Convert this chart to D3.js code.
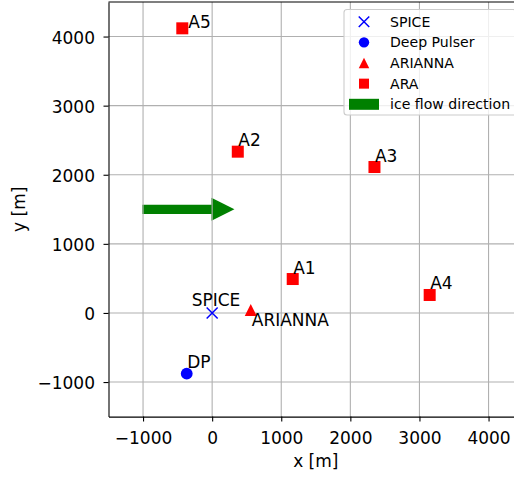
<!DOCTYPE html>
<html><head><meta charset="utf-8">
<script src="https://cdn.jsdelivr.net/npm/d3@7"></script>
<style>body{margin:0;background:#fff}svg{display:block}text{font-family:"DejaVu Sans",sans-serif}</style>
</head><body><svg id="c" width="514" height="478"></svg>
<script>
// ---- data ----
const araNames = ["A1", "A2", "A3", "A4", "A5"];
const araX = [1166, 371, 2349, 3148, -432];
const araY = [491, 2334, 2112, 260, 4119];
const spiceX = [0], spiceY = [0];
const dpX = [-368], dpY = [-879];
const ariannaX = [559], ariannaY = [43];
const arrowStart = [-1000, 1500], arrowDelta = [1000, 0];
const arrowWidth = 115, arrowHeadWidth = 300, arrowHeadLength = 300;
const xTicks = [-1000, 0, 1000, 2000, 3000, 4000];
const yTicks = [-1000, 0, 1000, 2000, 3000, 4000];
const xDomain = [-1500, 4500], yDomain = [-1500, 4500];
const legendLabels = ["SPICE", "Deep Pulser", "ARIANNA", "ARA", "ice flow direction"];

// ---- layout ----
const svg = d3.select("#c");
const L = 108.5, B = 416.6, pxPerUnit = 0.0691;
const x = d3.scaleLinear().domain(xDomain).range([L, L + (xDomain[1]-xDomain[0])*pxPerUnit]);
const y = d3.scaleLinear().domain(yDomain).range([B, B - (yDomain[1]-yDomain[0])*pxPerUnit]);
const red = "#ff0000", blue = "#0000ff", green = "#008000";

// arrow (patch, below grid)
const ax0 = arrowStart[0], ay0 = arrowStart[1], ax1 = ax0 + arrowDelta[0];
const hw = arrowWidth/2, hh = arrowHeadWidth/2;
const arrowPts = [[ax0, ay0+hw],[ax1, ay0+hw],[ax1, ay0+hh],[ax1+arrowHeadLength, ay0],[ax1, ay0-hh],[ax1, ay0-hw],[ax0, ay0-hw]];
svg.append("polygon").attr("points", arrowPts.map(p => [x(p[0]), y(p[1])].join(",")).join(" "))
  .attr("fill", green).attr("stroke", green).attr("stroke-width", 1.4).attr("stroke-linejoin","miter");

// grid
const g = svg.append("g");
xTicks.forEach(t => g.append("line").attr("x1", x(t)).attr("x2", x(t)).attr("y1", y(yDomain[0])).attr("y2", y(yDomain[1])).attr("stroke", "#b0b0b0").attr("stroke-width", 1.1));
yTicks.forEach(t => g.append("line").attr("y1", y(t)).attr("y2", y(t)).attr("x1", x(xDomain[0])).attr("x2", x(xDomain[1])).attr("stroke", "#b0b0b0").attr("stroke-width", 1.1));

// axes
const xAxis = d3.axisBottom(x).tickValues(xTicks).tickSize(5).tickPadding(10).tickSizeOuter(0).tickFormat(d => d < 0 ? "\u2212" + Math.abs(d) : d);
const yAxis = d3.axisLeft(y).tickValues(yTicks).tickSize(5).tickPadding(8.5).tickSizeOuter(0).tickFormat(d => d < 0 ? "\u2212" + Math.abs(d) : d);
const gx = svg.append("g").attr("transform", `translate(0,${B})`).call(xAxis);
const gy = svg.append("g").attr("transform", `translate(${L},0)`).call(yAxis);
[gx, gy].forEach(a => {
  a.selectAll("text").attr("font-size", 17).attr("fill", "#000").attr("font-family", '"DejaVu Sans",sans-serif');
  a.selectAll("line").attr("stroke", "#000").attr("stroke-width", 1.1);
  a.select(".domain").attr("stroke", "#000").attr("stroke-width", 1.1);
});
gy.selectAll("text").attr("dy", "0.38em");
// top spine
svg.append("line").attr("x1", x(xDomain[0])).attr("x2", x(xDomain[1])).attr("y1", y(yDomain[1])).attr("y2", y(yDomain[1])).attr("stroke", "#000").attr("stroke-width", 1.1);
svg.append("line").attr("x1", x(xDomain[1])).attr("x2", x(xDomain[1])).attr("y1", y(yDomain[0])).attr("y2", y(yDomain[1])).attr("stroke", "#000").attr("stroke-width", 1.1);

// axis labels
svg.append("text").attr("x", (x(xDomain[0])+x(xDomain[1]))/2).attr("y", 466.5).attr("text-anchor", "middle").attr("font-size", 17).text("x [m]");
svg.append("text").attr("transform", `translate(25,${(y(yDomain[0])+y(yDomain[1]))/2}) rotate(-90)`).attr("text-anchor", "middle").attr("font-size", 17).text("y [m]");

// marker helpers
function square(sel, cx, cy, s, col){ sel.append("rect").attr("x", cx-s/2).attr("y", cy-s/2).attr("width", s).attr("height", s).attr("fill", col); }
function tri(sel, cx, cy, s, col){ const h=s/2; sel.append("polygon").attr("points", `${cx},${cy-h} ${cx-h},${cy+h} ${cx+h},${cy+h}`).attr("fill", col); }
function circ(sel, cx, cy, r, col){ sel.append("circle").attr("cx", cx).attr("cy", cy).attr("r", r).attr("fill", col); }
function xmark(sel, cx, cy, s, col){ const h=s/2; sel.append("path").attr("d", `M${cx-h},${cy-h}L${cx+h},${cy+h}M${cx-h},${cy+h}L${cx+h},${cy-h}`).attr("stroke", col).attr("stroke-width", 1.5).attr("fill","none"); }

const m = svg.append("g");
spiceX.forEach((v,i) => xmark(m, x(v), y(spiceY[i]), 11, blue));
dpX.forEach((v,i) => circ(m, x(v), y(dpY[i]), 5.9, blue));
ariannaX.forEach((v,i) => tri(m, x(v), y(ariannaY[i]), 12, red));
araX.forEach((v,i) => square(m, x(v), y(araY[i]), 12, red));

// point labels
const lab = svg.append("g").attr("font-size", 17).attr("fill", "#000");
araNames.forEach((n,i) => {
  const dx = n === "A5" ? 6 : 0.5, dy = n === "A5" ? 0 : -5.5;
  lab.append("text").attr("x", x(araX[i]) + dx).attr("y", y(araY[i]) + dy).text(n);
});
lab.append("text").attr("x", x(spiceX[0]) - 20.5).attr("y", y(spiceY[0]) - 6.5).text("SPICE");
lab.append("text").attr("x", x(ariannaX[0]) + 1).attr("y", y(ariannaY[0]) + 16.5).text("ARIANNA");
lab.append("text").attr("x", x(dpX[0]) + 0.5).attr("y", y(dpY[0]) - 5.5).text("DP");

// legend
const lg = svg.append("g");
const lx = 344, ly = 9.5, lw = 172, lh = 105.5;
lg.append("rect").attr("x", lx).attr("y", ly).attr("width", lw).attr("height", lh).attr("rx", 3).attr("fill", "#fff").attr("fill-opacity", 0.8).attr("stroke", "#cccccc").attr("stroke-width", 1.1);
const rowY = i => 21.7 + i*20.65;
xmark(lg, 364, rowY(0), 10.5, blue);
circ(lg, 364, rowY(1), 5.2, blue);
tri(lg, 364, rowY(2), 10.5, red);
square(lg, 364, rowY(3), 10, red);
lg.append("rect").attr("x", 349).attr("y", rowY(4)-5.5).attr("width", 30).attr("height", 11).attr("fill", green);
legendLabels.forEach((t,i) => lg.append("text").attr("x", 390).attr("y", rowY(i)+5).attr("font-size", 14.1).text(t));
</script></body></html>
